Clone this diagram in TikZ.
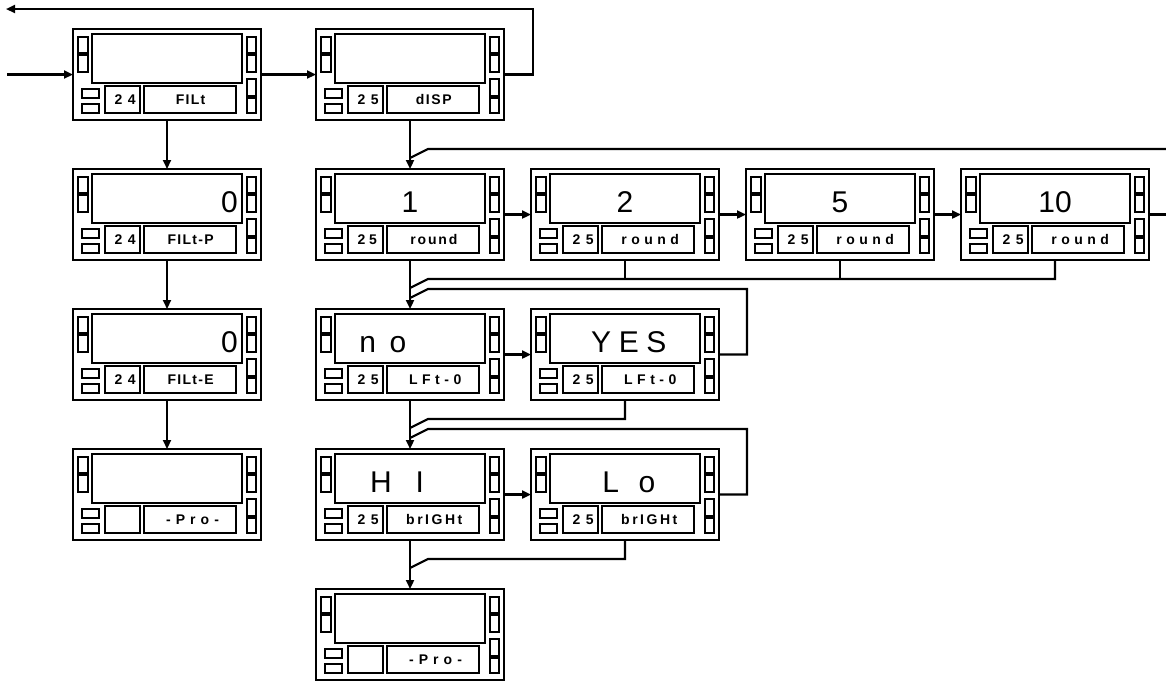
\documentclass[tikz,border=0pt]{standalone}
\usepackage{fontspec}
\setmainfont{Liberation Sans}
\usepackage{tikz}
\usetikzlibrary{arrows.meta,calc}
\newcommand{\tr}[2]{{\addfontfeatures{LetterSpace=#1}#2\kern-\dimexpr #1em/100\relax}}
% one front panel: [display style]{name}{x}{y}{display}{code}{key}
\newcommand{\meter}[7][]{%
  \node[panel, anchor=north west] (#2) at (#3,#4) {};
  \begin{scope}[shift={(#3,#4)}]
    \draw[part] (19,5) rectangle (169,54);
    \draw[part] (5,8) rectangle (15,24) (5,26) rectangle (15,43);
    \draw[part] (9,60) rectangle (26,69) (9,75) rectangle (26,84);
    \draw[part] (32,57) rectangle (67,84) (71,57) rectangle (163,84);
    \draw[part] (174,8) rectangle (183,24) (174,26) rectangle (183,43)
                (174,50) rectangle (183,67) (174,69) rectangle (183,84);
    \node[digits, #1] (#2-val) at (94,43) {#5};
    \node[keys] (#2-code) at (49.5,75) {#6};
    \node[keys] (#2-key) at (117,75) {#7};
  \end{scope}}

\begin{document}
\begin{tikzpicture}[
  x=1pt, y=-1pt,
  panel/.style={draw, line width=2.3pt, minimum width=188pt, minimum height=91pt, inner sep=0pt, outer sep=0pt},
  part/.style={draw, line width=2.1pt},
  digits/.style={anchor=base, inner sep=0pt, font=\fontsize{30}{30}\selectfont},
  flush/.style={anchor=base east, xshift=71pt},
  keys/.style={anchor=base, inner sep=0pt, font=\fontsize{14}{14}\selectfont\bfseries},
  wire/.style={line width=2.2pt},
  arrow/.style={-{Triangle[length=9pt,width=8pt]}, line width=2.2pt}
]
  \useasboundingbox (0,0) rectangle (1166,681);

  % filter branch
  \meter{filt}{73}{29}{}{\tr{38}{24}}{\tr{9}{FILt}}
  \meter[flush]{filtp}{73}{169}{0}{\tr{38}{24}}{\tr{9}{FILt-P}}
  \meter[flush]{filte}{73}{309}{0}{\tr{38}{24}}{\tr{9}{FILt-E}}
  \meter{proa}{73}{449}{}{}{\tr{36}{-Pro-}}

  % display branch
  \meter{disp}{316}{29}{}{\tr{38}{25}}{\tr{11}{dISP}}
  \meter{one}{316}{169}{1}{\tr{26}{25}}{\tr{13}{round}}
  \meter{two}{531}{169}{2}{\tr{38}{25}}{\tr{32}{round}}
  \meter{five}{746}{169}{5}{\tr{38}{25}}{\tr{32}{round}}
  \meter{ten}{961}{169}{10}{\tr{38}{25}}{\tr{32}{round}}
  \meter[xshift=-34pt]{no}{316}{309}{\tr{45}{no}}{\tr{38}{25}}{\tr{32}{LFt-0}}
  \meter{yes}{531}{309}{\tr{25}{YES}}{\tr{38}{25}}{\tr{32}{LFt-0}}
  \meter[xshift=-25pt]{hi}{316}{449}{\tr{80}{HI}}{\tr{38}{25}}{\tr{18}{brIGHt}}
  \meter[xshift=-6pt]{lo}{531}{449}{\tr{65}{Lo}}{\tr{38}{25}}{\tr{18}{brIGHt}}
  \meter{prob}{316}{589}{}{}{\tr{36}{-Pro-}}

  \coordinate (in) at (7,74.5);
  \coordinate (back) at (6,9);
  \coordinate (wrap) at (1166,149);
  \coordinate (m0) at ([yshift=-38pt]disp.south);
  \coordinate (m1) at ([yshift=-28pt]one.south);
  \coordinate (m2) at ([yshift=-38pt]one.south);
  \coordinate (m3) at ([yshift=-28pt]no.south);
  \coordinate (m4) at ([yshift=-38pt]no.south);
  \coordinate (m5) at ([yshift=-28pt]hi.south);

  \draw[arrow] (in) -- (filt);
  \draw[arrow] (filt) -- (disp);
  \draw[arrow] (disp.east) -- ++(29,0) |- (back);
  \draw[arrow] (filt) -- (filtp);
  \draw[arrow] (filtp) -- (filte);
  \draw[arrow] (filte) -- (proa);

  \draw[arrow] (disp) -- (one);
  \draw[wire] (wrap) -- ([shift={(18,-9)}]m0) -- (m0);
  \draw[arrow] (one) -- (two);
  \draw[arrow] (two) -- (five);
  \draw[arrow] (five) -- (ten);
  \draw[wire] (ten.east) -- (ten.east -| wrap);

  \draw[arrow] (one) -- (no);
  \draw[wire] (ten.south) |- ([shift={(18,-9)}]m1) -- (m1);
  \draw[wire] (two.south) -- ++(0,19);
  \draw[wire] (five.south) -- ++(0,19);
  \draw[wire] (yes.east) -- ++(28,0) |- ([shift={(18,-9)}]m2) -- (m2);
  \draw[arrow] (no) -- (yes);

  \draw[arrow] (no) -- (hi);
  \draw[wire] (yes.south) |- ([shift={(18,-9)}]m3) -- (m3);
  \draw[wire] (lo.east) -- ++(28,0) |- ([shift={(18,-9)}]m4) -- (m4);
  \draw[arrow] (hi) -- (lo);

  \draw[arrow] (hi) -- (prob);
  \draw[wire] (lo.south) |- ([shift={(18,-9)}]m5) -- (m5);
\end{tikzpicture}
\end{document}
